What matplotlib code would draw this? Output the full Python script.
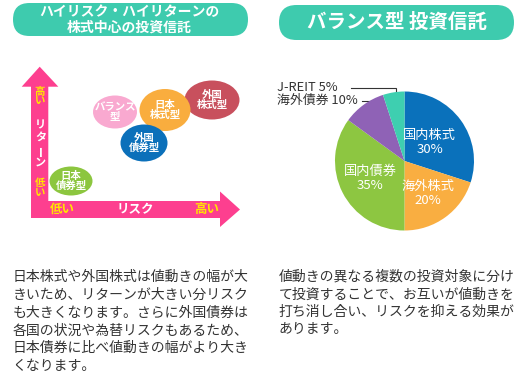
import numpy as np
import matplotlib

matplotlib.use("Agg")

import matplotlib.pyplot as plt
from matplotlib.patches import Ellipse, FancyBboxPatch, Polygon

plt.rcParams["font.family"] = ["Noto Sans CJK JP", "DejaVu Sans"]

# left: risk / return bubbles (risk, return in diagram units from the arrow corner)
fund_names = ["バランス\n型", "外国\n株式型", "日本\n株式型", "外国\n債券型", "日本\n債券型"]
fund_risk = [67, 164, 117, 96, 23]
fund_return = [89, 101, 91, 58, 20]
fund_w = [44, 55, 51, 47, 43]
fund_h = [33, 39, 42, 37, 29]
fund_colors = ["#f9a9d0", "#c8505d", "#f9ad3e", "#0b70ba", "#8cc63f"]

# right: balanced fund allocation
alloc_labels = ["国内株式", "海外株式", "国内債券", "海外債券", "J-REIT"]
alloc_pct = [30, 20, 35, 10, 5]
alloc_colors = ["#0a71bb", "#f9ae41", "#8dc641", "#8f62b6", "#3ecfb0"]

left_text = [
    "日本株式や外国株式は値動きの幅が大",
    "きいため、リターンが大きい分リスク",
    "も大きくなります。さらに外国債券は",
    "各国の状況や為替リスクもあるため、",
    "日本債券に比べ値動きの幅がより大き",
    "くなります。",
]
right_text = [
    "値動きの異なる複数の投資対象に分け",
    "て投資することで、お互いが値動きを",
    "打ち消し合い、リスクを抑える効果が",
    "あります。",
]

W, H = 525, 387
TEAL = "#3ecbae"
PINK = "#fd3f8f"
YELLOW = "#ffe600"
DARK = "#333333"

fig = plt.figure(figsize=(W / 100, H / 100), dpi=100)
ax = fig.add_axes([0, 0, 1, 1])
ax.set_xlim(0, W)
ax.set_ylim(H, 0)
ax.axis("off")

# title pills
ax.add_patch(FancyBboxPatch((13, 3), 235, 33, boxstyle="round,pad=0,rounding_size=16.5",
                            fc=TEAL, ec="none"))
ax.text(129, 12.5, "ハイリスク・ハイリターンの", color="white", fontsize=10,
        fontweight="bold", ha="center", va="center")
ax.text(129, 28, "株式中心の投資信託", color="white", fontsize=10,
        fontweight="bold", ha="center", va="center")
ax.add_patch(FancyBboxPatch((279, 5), 235, 35, boxstyle="round,pad=0,rounding_size=17.5",
                            fc=TEAL, ec="none"))
ax.text(397, 22, "バランス型 投資信託", color="white", fontsize=14,
        fontweight="bold", ha="center", va="center")

# L-shaped arrows
arrow = [(21.7, 86.7), (39.7, 66.7), (58.3, 86.7), (48.3, 86.7), (48.3, 201),
         (220, 201), (220, 191.5), (240, 209.5), (220, 227), (220, 218),
         (31, 218), (31, 86.7)]
ax.add_patch(Polygon(arrow, closed=True, fc=PINK, ec="none"))

for ch, y in zip("高い", [92, 101]):
    ax.text(40, y, ch, color=YELLOW, fontsize=7.5, fontweight="bold", ha="center", va="center")
for ch, y in zip("リターン", [125, 137.5, 150, 162]):
    ax.text(40.5, y, ch, color="white", fontsize=8, fontweight="bold", ha="center",
            va="center", rotation=90 if ch == "ー" else 0)
for ch, y in zip("低い", [183, 193.5]):
    ax.text(40, y, ch, color=YELLOW, fontsize=7.5, fontweight="bold", ha="center", va="center")
ax.text(62.5, 209.5, "低い", color=YELLOW, fontsize=9, fontweight="bold", ha="center", va="center")
ax.text(135, 209.5, "リスク", color="white", fontsize=9, fontweight="bold", ha="center", va="center")
ax.text(206.5, 209.5, "高い", color=YELLOW, fontsize=9, fontweight="bold", ha="center", va="center")

# bubble diagram axes: origin at the arrow corner, units in pixels
x0, y0, dw, dh = 48, 201, 192, 141
ax_b = fig.add_axes([x0 / W, 1 - y0 / H, dw / W, dh / H])
ax_b.set_xlim(0, dw)
ax_b.set_ylim(0, dh)
ax_b.axis("off")
for name, rx, ry, w, h, c in zip(fund_names, fund_risk, fund_return, fund_w, fund_h, fund_colors):
    ax_b.add_patch(Ellipse((rx, ry), w, h, fc=c, ec="none", clip_on=False))
    ax_b.text(rx, ry, name, color="white", fontsize=7.5, fontweight="bold",
              ha="center", va="center", linespacing=1.05)

# pie
PIE_CX, PIE_CY, PIE_R = 404.5, 161, 69.5
ax_p = fig.add_axes([(PIE_CX - PIE_R) / W, 1 - (PIE_CY + PIE_R) / H, 2 * PIE_R / W, 2 * PIE_R / H])
wedges, _ = ax_p.pie(alloc_pct, colors=alloc_colors, startangle=90, counterclock=False,
                     wedgeprops=dict(linewidth=0))
ax_p.set_xlim(-1, 1)
ax_p.set_ylim(-1, 1)

inner_r = [0.45, 0.58, 0.55]
for wdg, lab, pct, r in zip(wedges[:3], alloc_labels[:3], alloc_pct[:3], inner_r):
    mid = np.deg2rad((wdg.theta1 + wdg.theta2) / 2)
    ax_p.text(r * np.cos(mid), r * np.sin(mid), f"{lab}\n{pct}%", color="white",
              fontsize=9.5, ha="center", va="center", linespacing=1.15)

# outside labels with elbow leader lines
label_y = {4: 87.5, 3: 100.5}
line_x0 = {4: 351, 3: 362}
for i in (4, 3):
    wdg = wedges[i]
    mid = np.deg2rad((wdg.theta1 + wdg.theta2) / 2)
    px = PIE_CX + 0.8 * PIE_R * np.cos(mid)
    py = PIE_CY - 0.78 * PIE_R * np.sin(mid)
    ax.plot([line_x0[i], px, px], [label_y[i], label_y[i], py], color=DARK, lw=0.8,
            solid_joinstyle="miter")
    ax.text(277, label_y[i], f"{alloc_labels[i]} {alloc_pct[i]}%", color=DARK,
            fontsize=9.3, ha="left", va="center")

# body text
for i, line in enumerate(left_text):
    ax.text(13, 277 + 17.8 * i, line, color=DARK, fontsize=10, ha="left", va="center")
for i, line in enumerate(right_text):
    ax.text(278.5, 277 + 17.5 * i, line, color=DARK, fontsize=10, ha="left", va="center")

fig.savefig("out.png", dpi=100)
